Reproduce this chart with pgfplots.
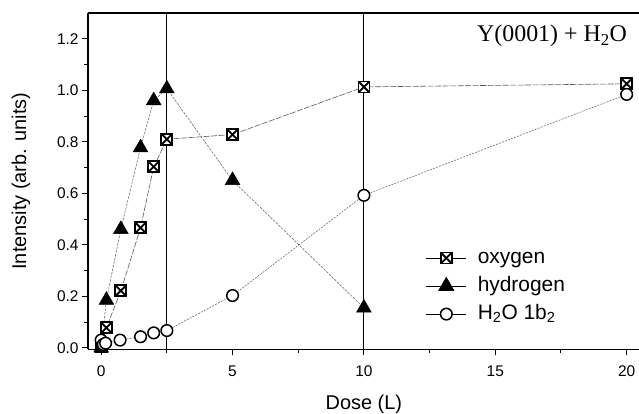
\documentclass[border=0pt]{standalone}
\usepackage{fontspec}
\setmainfont{Liberation Sans}
\newfontfamily\timesfont{Liberation Serif}
\usepackage{pgfplots}
\pgfplotsset{compat=1.18}

% square with a cross inside
\pgfdeclareplotmark{boxx}{%
  \pgfpathrectangle{\pgfpoint{-\pgfplotmarksize}{-\pgfplotmarksize}}{\pgfpoint{2\pgfplotmarksize}{2\pgfplotmarksize}}%
  \pgfusepathqfillstroke
  \pgfpathmoveto{\pgfpoint{-\pgfplotmarksize}{-\pgfplotmarksize}}%
  \pgfpathlineto{\pgfpoint{\pgfplotmarksize}{\pgfplotmarksize}}%
  \pgfpathmoveto{\pgfpoint{-\pgfplotmarksize}{\pgfplotmarksize}}%
  \pgfpathlineto{\pgfpoint{\pgfplotmarksize}{-\pgfplotmarksize}}%
  \pgfusepathqstroke}

\begin{document}
\begin{tikzpicture}
\begin{axis}[
  name=ax,
  scale only axis,
  width=551.7bp, height=336.3bp,
  xmin=-0.5, xmax=20.5, ymin=-0.006, ymax=1.3,
  axis x line*=box, axis y line*=left,
  axis line style={line width=1.1bp, -},
  xtick pos=left, ytick pos=left,
  tick align=outside,
  xtick={0,5,10,15,20}, ytick={0,0.2,0.4,0.6,0.8,1.0,1.2},
  minor x tick num=1, minor y tick num=1,
  major tick length=6bp, minor tick length=4bp,
  every tick/.style={black, line width=1bp},
  /pgf/number format/assume math mode=true,
  yticklabel style={/pgf/number format/.cd, fixed, fixed zerofill, precision=1},
  tick label style={font=\fontsize{15.5}{16}\selectfont},
  xticklabel style={yshift=-7bp},
  every axis x label/.style={at={([yshift=-60bp]rel axis cs:0.5,0)}, anchor=base},
  every axis y label/.style={at={([xshift=-67bp]rel axis cs:0,0.5)}, rotate=90, anchor=center},
  label style={font=\fontsize{20}{22}\selectfont},
  xlabel={Dose (L)},
  ylabel={Intensity (arb. units)},
  legend style={draw=none, fill=none, at={(axis cs:12.35,0.39)}, anchor=north west,
    font=\fontsize{21}{22}\selectfont, row sep=7bp, column sep=10bp, inner sep=0pt,
    nodes={inner sep=1bp, text height=15bp, text depth=4bp}},
  legend cell align=left,
  legend image code/.code={\draw[mark repeat=2, mark phase=2, solid, black, line width=0.9bp]
    plot coordinates {(0bp,0bp) (20bp,0bp) (40bp,0bp)};},
]
\addplot[black, line width=1bp, forget plot] coordinates {(2.5,-0.006) (2.5,1.3)};
\addplot[black, line width=1bp, forget plot] coordinates {(10,-0.006) (10,1.3)};

\addplot[gray!70!black, line width=0.6bp, dash pattern=on 6bp off 1.5bp,
  mark=boxx, mark size=5.5bp, mark options={solid, fill=white, draw=black, line width=1.8bp}]
  coordinates {(0,0.005) (0.2,0.078) (0.75,0.222) (1.5,0.466) (2,0.703) (2.5,0.81) (5,0.828) (10,1.013) (20,1.025)};
\addlegendentry{oxygen}
\addplot[gray!70!black, line width=0.5bp, dash pattern=on 2.5bp off 1.2bp,
  mark=triangle*, mark size=8.5bp, mark options={solid, fill=black, draw=black}]
  coordinates {(0,0.0) (0.2,0.185) (0.75,0.46) (1.5,0.777) (2,0.96) (2.5,1.006) (5,0.65) (10,0.155)};
\addlegendentry{hydrogen}
\addplot[gray!70!black, line width=0.5bp, dash pattern=on 2bp off 1.2bp,
  mark=*, mark size=5.8bp, mark options={solid, fill=white, draw=black, line width=1.5bp}]
  coordinates {(0,0.03) (0.08,0.013) (0.17,0.018) (0.72,0.03) (1.5,0.043) (2,0.058) (2.5,0.067) (5,0.203) (10,0.592) (20,0.984)};
\addlegendentry{H\textsubscript{2}O 1b\textsubscript{2}}

\node[anchor=east, inner sep=0pt, font=\timesfont\fontsize{24}{24}\selectfont]
  at (axis cs:20.02,1.21) {Y(0001) + H\textsubscript{2}O};
\end{axis}
\pgfresetboundingbox
\path[use as bounding box] ([xshift=-88bp,yshift=-64bp]ax.south west) rectangle ([xshift=-0.8bp,yshift=13bp]ax.north east);
\end{tikzpicture}
\end{document}
